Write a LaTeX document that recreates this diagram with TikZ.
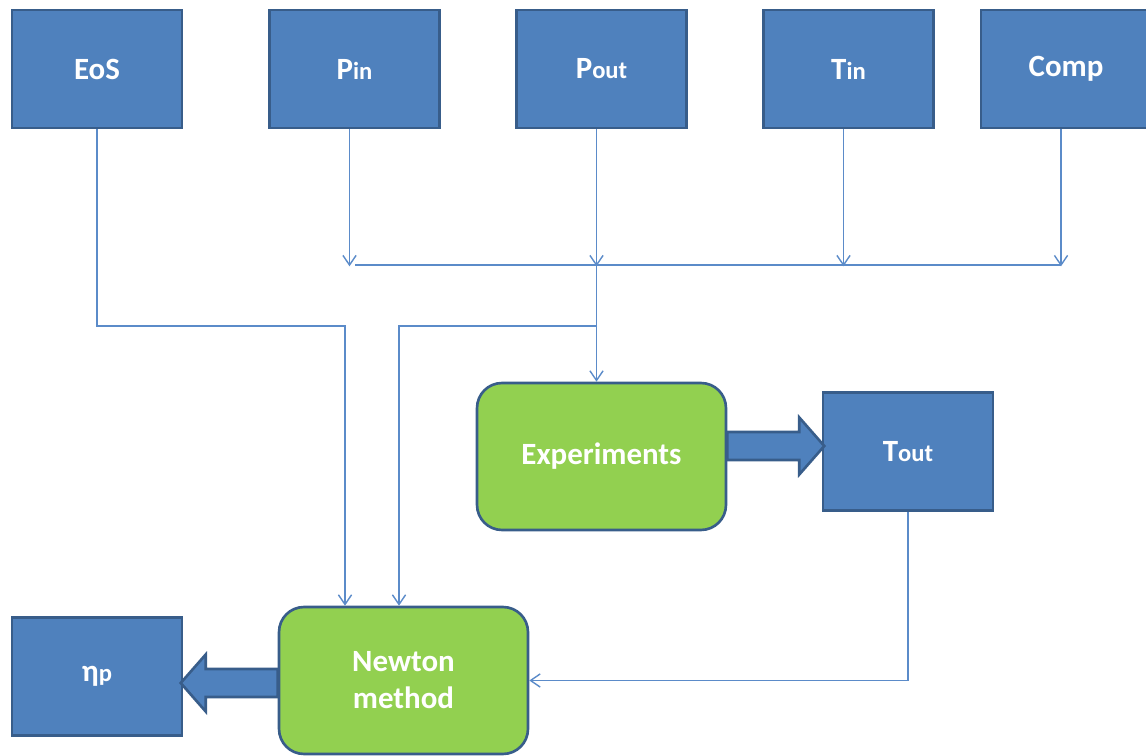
\documentclass[tikz,border=0pt]{standalone}
\usepackage{fontspec}
\setmainfont{Carlito}
\usetikzlibrary{arrows.meta}
\usetikzlibrary{calc}
\usetikzlibrary{positioning}

\definecolor{boxblue}{HTML}{4F81BD}
\definecolor{edgeblue}{HTML}{385D8A}
\definecolor{boxgreen}{HTML}{92D050}
\definecolor{lineblue}{HTML}{5B8BC9}

\newcommand{\lo}[1]{{\fontsize{14}{16}\selectfont #1}}

\begin{document}
\begin{tikzpicture}[x=0.02cm,y=-0.02cm,
  >={Straight Barb[length=5.5pt,width=7.5pt]},
  data node/.style={rectangle,fill=boxblue,draw=edgeblue,line width=1.5pt,minimum width=3.4cm,
    minimum height=2.36cm,inner sep=0pt,text=white,font=\fontsize{17.6}{21}\selectfont\bfseries},
  task node/.style={data node,fill=boxgreen,rounded corners=0.5cm,minimum width=4.98cm,
    minimum height=2.94cm,align=center},
  wire/.style={draw=lineblue,line width=0.8pt},
  link/.style={wire,->},
  fat/.style={fill=boxblue,draw=edgeblue,line width=1.5pt,line join=miter},
  fatarrow/.pic={\draw[fat] (0,-14) -- (72,-14) -- (72,-28.5) -- (97,0) -- (72,28.5) -- (72,14) -- (0,14) -- cycle;}]
  \useasboundingbox (0,0) rectangle (1146,756);
  \clip (0,0) rectangle (1146,756);

  \node[data node] (eos) at (97,69) {EoS};
  \node[data node] (pin) at (354.5,69) {P\lo{in}};
  \node[data node] (pout) at (601.5,69) {P\lo{out}};
  \node[data node] (tin) at (848.5,69) {T\lo{in}};
  \node[data node] (comp) at (1066,69) {Comp};
  \node[task node] (exp) at (601.5,456.5) {Experiments};
  \node[data node] (tout) at (908,451.5) {T\lo{out}};
  \node[task node] (newton) at (403.5,680.5) {Newton\\method};
  \node[data node] (etap) at (97,676.5) {η\lo{p}};

  \coordinate (busL) at (355,265);
  \coordinate (busR) at (1061,265);
  \coordinate (eosBend) at (345,326);
  \coordinate (split) at (597,326);

  % inputs down to the common bus
  \foreach \n in {pin,pout,tin,comp}
    \draw[link] ([xshift=-0.1cm]\n.south) -- +(0,137);
  \draw[wire] (busL) -- (busR);
  \draw[link] ([xshift=-0.1cm]pout.south) ++(0,137) -- ([xshift=-0.1cm]exp.north);
  \draw[link] (split) -| ([xshift=-0.09cm]newton.north);
  \draw[link] (eos.south) |- (eosBend) -- (eosBend |- newton.north);
  \draw[link] (tout.south) |- (newton.east);

  \pic at ($(exp.east)+(0,-10.5)$) {fatarrow};
  \pic[rotate=180] at ($(newton.west)+(0,2.5)$) {fatarrow};
\end{tikzpicture}
\end{document}
